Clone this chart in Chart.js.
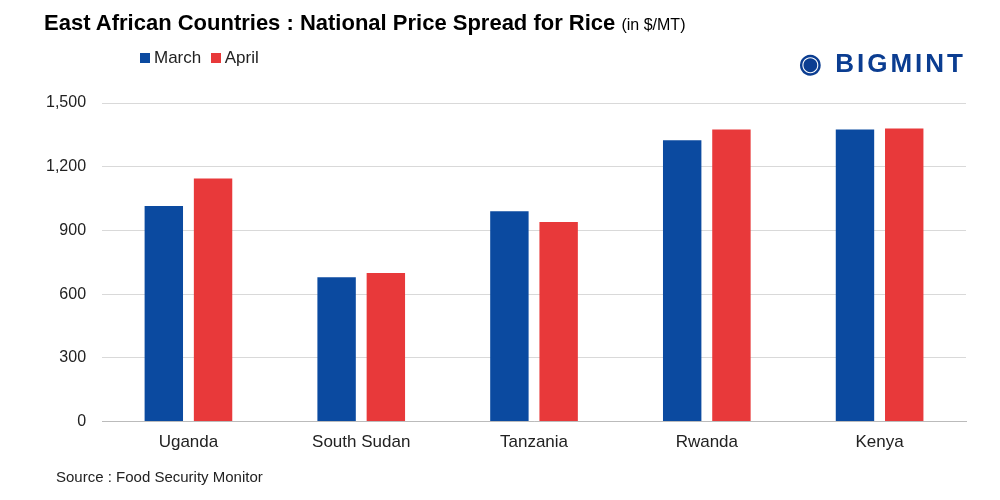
<!DOCTYPE html>
<html>
<head>
<script src="https://cdn.jsdelivr.net/npm/chart.js@4"></script>
<style>
  body { margin: 0; background: #fff; font-family: Arial, "Liberation Sans", sans-serif; }
  #wrap { position: relative; width: 1000px; height: 500px; }
  #title { position: absolute; left: 44px; top: 10px; font-size: 22px; font-weight: bold; color: #000; }
  #title span { font-size: 16px; font-weight: normal; }
  #legend { position: absolute; left: 140px; top: 48px; font-size: 17px; color: #222; }
  .sw { display: inline-block; width: 10px; height: 10px; margin-right: 4px; }
  #logo { position: absolute; right: 34px; top: 48px; font-size: 26px; font-weight: 900; color: #0b3d91; letter-spacing: 3px; }
  #source { position: absolute; left: 56px; top: 468px; font-size: 15px; color: #222; }
  canvas { position: absolute; left: 0; top: 0; }
</style>
</head>
<body>
<div id="wrap">
  <canvas id="chart" width="1000" height="500"></canvas>
  <div id="title">East African Countries : National Price Spread for Rice <span>(in $/MT)</span></div>
  <div id="legend"><span class="sw" style="background:#0b4aa0"></span>March&nbsp;&nbsp;<span class="sw" style="background:#e8393a"></span>April</div>
  <div id="logo">&#x25C9; BIGMINT</div>
  <div id="source">Source : Food Security Monitor</div>
</div>
<script>
// Chart data
const countries = ['Uganda', 'South Sudan', 'Tanzania', 'Rwanda', 'Kenya'];
const marchPrices = [1015, 680, 990, 1325, 1375];
const aprilPrices = [1145, 700, 940, 1375, 1380];
const yTicks = [0, 300, 600, 900, 1200, 1500];

const ctx = document.getElementById('chart').getContext('2d');
new Chart(ctx, {
    type: 'bar',
    data: {
        labels: countries,
        datasets: [
            { label: 'March', data: marchPrices, backgroundColor: '#0b4aa0' },
            { label: 'April', data: aprilPrices, backgroundColor: '#e8393a' }
        ]
    },
    options: {
        responsive: false,
        animation: false,
        layout: { padding: { top: 103, bottom: 44, left: 30, right: 34 } },
        plugins: { legend: { display: false }, tooltip: { enabled: false } },
        datasets: { bar: { categoryPercentage: 0.57, barPercentage: 0.78 } },
        scales: {
            x: {
                grid: { display: false },
                border: { color: '#bbb' },
                ticks: { color: '#222', font: { size: 17 } }
            },
            y: {
                min: 0, max: 1500,
                afterBuildTicks: axis => { axis.ticks = yTicks.map(v => ({ value: v })); },
                grid: { color: '#d9d9d9', drawTicks: false },
                border: { display: false },
                ticks: { color: '#222', font: { size: 16 }, padding: 16,
                         callback: v => v.toLocaleString('en-US') }
            }
        }
    }
});
</script>
</body>
</html>
